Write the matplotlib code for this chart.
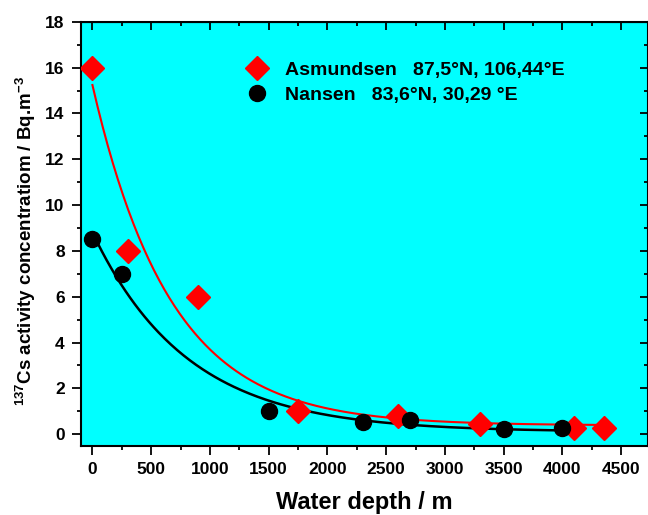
import numpy as np
import matplotlib
matplotlib.use("Agg")
import matplotlib.pyplot as plt
from matplotlib.ticker import MultipleLocator

plt.rcParams['font.family'] = ['Liberation Sans', 'DejaVu Sans']
plt.rcParams['font.weight'] = 'bold'
plt.rcParams['mathtext.fontset'] = 'custom'
plt.rcParams['mathtext.rm'] = 'Liberation Sans:bold'
plt.rcParams['mathtext.it'] = 'Liberation Sans:bold'
plt.rcParams['mathtext.bf'] = 'Liberation Sans:bold'

# ---- data ----
asm_depth = [0, 300, 900, 1750, 2600, 3300, 4100, 4350]
asm_cs = [16.0, 8.0, 6.0, 1.0, 0.8, 0.45, 0.27, 0.27]
nan_depth = [0, 250, 1500, 2300, 2700, 3500, 4000]
nan_cs = [8.5, 7.0, 1.02, 0.52, 0.62, 0.22, 0.29]

asm_label = "Asmundsen   87,5°N, 106,44°E"
nan_label = "Nansen   83,6°N, 30,29 °E"


# y = y0 + A*exp(-x/t), least squares over a grid of t
def exp_fit(x, y):
    x = np.asarray(x, float)
    y = np.asarray(y, float)
    best = None
    for t in np.linspace(100, 3000, 2901):
        M = np.column_stack([np.ones_like(x), np.exp(-x / t)])
        coef, res, _, _ = np.linalg.lstsq(M, y, rcond=None)
        err = np.sum((M @ coef - y) ** 2)
        if best is None or err < best[0]:
            best = (err, coef[0], coef[1], t)
    return best[1:]


fig = plt.figure(figsize=(6.48, 5.15), dpi=100)
ax = fig.add_axes([0.1245, 0.1346, 0.8755, 0.8231])
ax.set_facecolor('#00ffff')

for xs, ys, col in [(asm_depth, asm_cs, 'red'), (nan_depth, nan_cs, 'black')]:
    y0, a, t = exp_fit(xs, ys)
    xx = np.linspace(min(xs), max(xs), 300)
    ax.plot(xx, y0 + a * np.exp(-xx / t), color=col,
            lw=1.5 if col == 'red' else 1.8, zorder=2)

asm_pts, = ax.plot(asm_depth, asm_cs, 'D', color='red', ms=12, ls='none',
                   zorder=3, label=asm_label)
nan_pts, = ax.plot(nan_depth, nan_cs, 'o', color='black', ms=11.5, ls='none',
                   zorder=3, label=nan_label)

ax.set_xlim(-100, 4728)
ax.set_ylim(-0.5, 18)
ax.xaxis.set_major_locator(MultipleLocator(500))
ax.xaxis.set_minor_locator(MultipleLocator(250))
ax.yaxis.set_major_locator(MultipleLocator(2))
ax.yaxis.set_minor_locator(MultipleLocator(1))
ax.tick_params(which='both', direction='out', width=1.3, labelsize=12.5,
               top=False, right=False)
ax.tick_params(which='major', length=6.5, pad=5)
ax.tick_params(which='minor', length=3)
for lab in ax.get_xticklabels() + ax.get_yticklabels():
    lab.set_fontweight('bold')

# inward ticks on top and right like the original
ax2 = ax.secondary_xaxis('top')
ax2.xaxis.set_major_locator(MultipleLocator(500))
ax2.xaxis.set_minor_locator(MultipleLocator(250))
ax2.tick_params(which='both', direction='in', width=1.3, labeltop=False)
ax2.tick_params(which='major', length=6)
ax2.tick_params(which='minor', length=3)
ay2 = ax.secondary_yaxis('right')
ay2.yaxis.set_major_locator(MultipleLocator(2))
ay2.yaxis.set_minor_locator(MultipleLocator(1))
ay2.tick_params(which='both', direction='in', width=1.3, labelright=False)
ay2.tick_params(which='major', length=6)
ay2.tick_params(which='minor', length=3)

for s in ax.spines.values():
    s.set_linewidth(1.5)

ax.set_xlabel("Water depth / m", fontsize=17, fontweight='bold', labelpad=10)
ax.set_ylabel(r"$^{137}$Cs activity concentratiom / Bq.m$^{-3}$",
              fontsize=13.5, fontweight='bold')
ax.yaxis.set_label_coords(-0.075, 0.483)

ax.legend(handles=[asm_pts, nan_pts], loc='upper left',
          bbox_to_anchor=(242 / 648, 1 - 61 / 515), bbox_transform=fig.transFigure,
          frameon=False, borderpad=0, borderaxespad=0, handlelength=1.5,
          handletextpad=0.7, labelspacing=0.4, prop={'size': 14, 'weight': 'bold'})

fig.savefig("out.png", dpi=100)
